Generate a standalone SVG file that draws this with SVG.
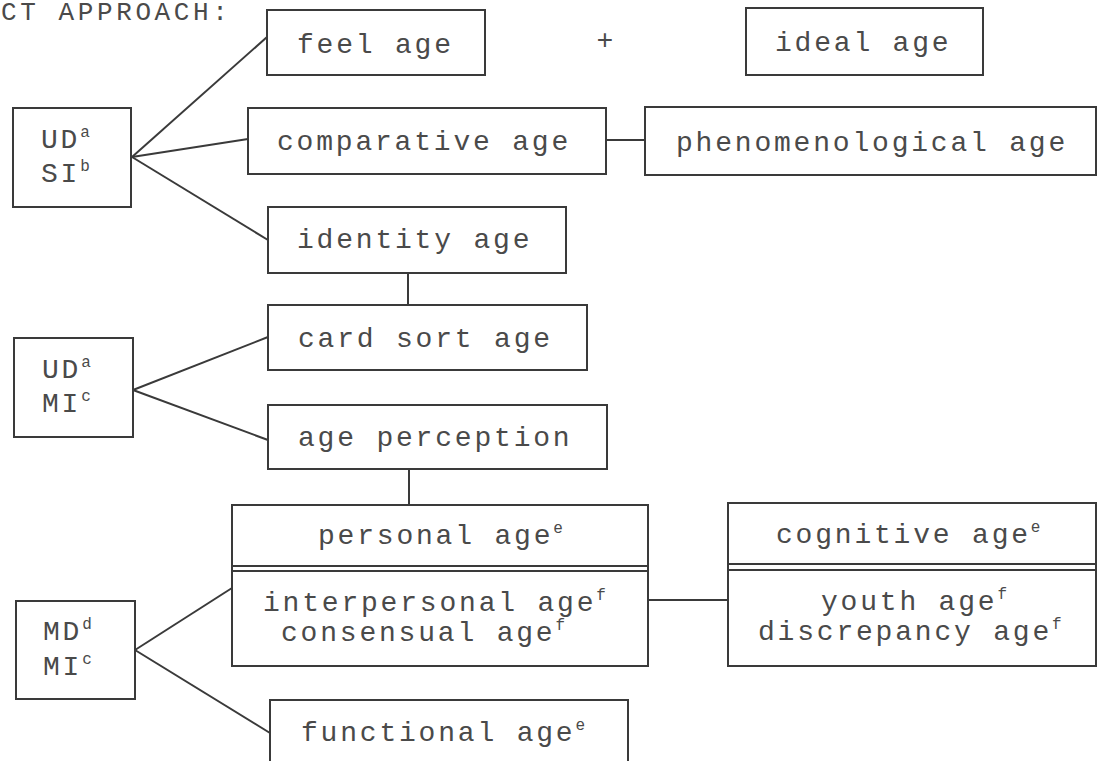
<svg xmlns="http://www.w3.org/2000/svg" width="1098" height="761" viewBox="0 0 1098 761">
<style>
.box{fill:none;stroke:#3a3a3a;stroke-width:2}
.ln{fill:none;stroke:#3a3a3a;stroke-width:2}
.t{font-family:"Liberation Mono","Courier New",monospace;font-size:28px;letter-spacing:2.8px;fill:#4a4a4a}
.h{font-family:"Liberation Mono","Courier New",monospace;font-size:26px;letter-spacing:3.6px;fill:#4a4a4a}
.s{font-size:16px;letter-spacing:0}
</style>
<rect width="1098" height="761" fill="#fff"/>
<text class="h" x="1" y="20">CT APPROACH:</text>
<g id="connectors">
<line class="ln" x1="132" y1="157" x2="267" y2="37"/>
<line class="ln" x1="132" y1="157" x2="248" y2="139"/>
<line class="ln" x1="132" y1="157" x2="268" y2="240"/>
<line class="ln" x1="606" y1="140" x2="645" y2="140"/>
<line class="ln" x1="408" y1="273" x2="408" y2="305"/>
<line class="ln" x1="133" y1="390" x2="268" y2="337"/>
<line class="ln" x1="133" y1="390" x2="268" y2="440"/>
<line class="ln" x1="409" y1="469" x2="409" y2="505"/>
<line class="ln" x1="135" y1="650" x2="232" y2="588"/>
<line class="ln" x1="135" y1="650" x2="270" y2="733"/>
<line class="ln" x1="648" y1="600" x2="728" y2="600"/>
</g>
<g id="feel"><rect class="box" x="267" y="10" width="218" height="65"/><text class="t" x="297" y="53">feel age</text></g>
<g id="plus"><text class="t" x="605" y="49" text-anchor="middle" style="letter-spacing:0">+</text></g>
<g id="ideal"><rect class="box" x="746" y="8" width="237" height="67"/><text class="t" x="775" y="51">ideal age</text></g>
<g id="udsi"><rect class="box" x="13" y="108" width="118" height="99"/><text class="t" x="41" y="148">UD<tspan class="s" dy="-11">a</tspan></text><text class="t" x="41" y="182">SI<tspan class="s" dy="-11">b</tspan></text></g>
<g id="comparative"><rect class="box" x="248" y="108" width="358" height="66"/><text class="t" x="277" y="150">comparative age</text></g>
<g id="phenomenological"><rect class="box" x="645" y="107" width="451" height="68"/><text class="t" x="676" y="151">phenomenological age</text></g>
<g id="identity"><rect class="box" x="268" y="207" width="298" height="66"/><text class="t" x="297" y="248">identity age</text></g>
<g id="cardsort"><rect class="box" x="268" y="305" width="319" height="65"/><text class="t" x="298" y="347">card sort age</text></g>
<g id="udmi"><rect class="box" x="14" y="338" width="119" height="99"/><text class="t" x="42" y="378">UD<tspan class="s" dy="-11">a</tspan></text><text class="t" x="42" y="412">MI<tspan class="s" dy="-11">c</tspan></text></g>
<g id="ageperception"><rect class="box" x="268" y="405" width="339" height="64"/><text class="t" x="298" y="446">age perception</text></g>
<g id="personal"><rect class="box" x="232" y="505" width="416" height="161"/><line class="ln" x1="232" y1="566" x2="648" y2="566"/><line class="ln" x1="232" y1="571" x2="648" y2="571"/><text class="t" x="318" y="544">personal age<tspan class="s" dy="-11">e</tspan></text><text class="t" x="263" y="611">interpersonal age<tspan class="s" dy="-11">f</tspan></text><text class="t" x="281" y="641">consensual age<tspan class="s" dy="-11">f</tspan></text></g>
<g id="cognitive"><rect class="box" x="728" y="503" width="368" height="163"/><line class="ln" x1="728" y1="564" x2="1096" y2="564"/><line class="ln" x1="728" y1="570" x2="1096" y2="570"/><text class="t" x="776" y="543">cognitive age<tspan class="s" dy="-11">e</tspan></text><text class="t" x="821" y="610">youth age<tspan class="s" dy="-11">f</tspan></text><text class="t" x="758" y="640">discrepancy age<tspan class="s" dy="-11">f</tspan></text></g>
<g id="mdmi"><rect class="box" x="16" y="601" width="119" height="98"/><text class="t" x="43" y="640">MD<tspan class="s" dy="-11">d</tspan></text><text class="t" x="43" y="675">MI<tspan class="s" dy="-11">c</tspan></text></g>
<g id="functional"><rect class="box" x="270" y="700" width="358" height="75"/><text class="t" x="301" y="741">functional age<tspan class="s" dy="-11">e</tspan></text></g>
</svg>
